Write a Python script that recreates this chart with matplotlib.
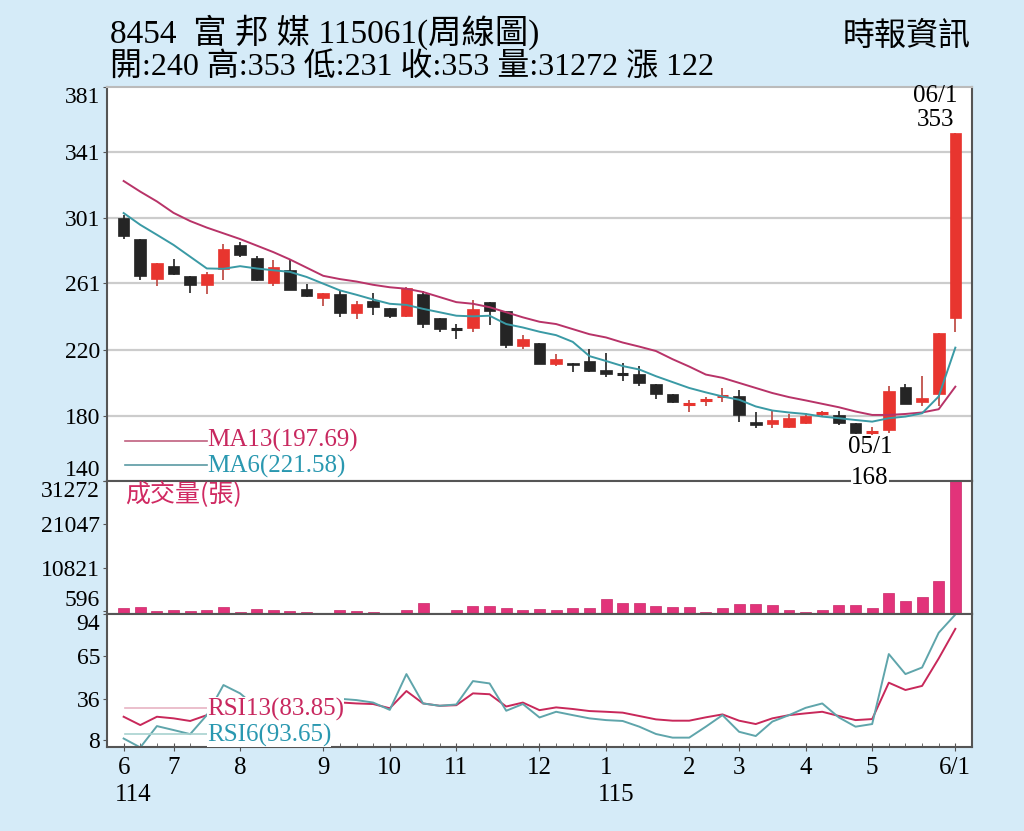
import matplotlib.pyplot as plt
import numpy as np

plt.rcParams['font.family'] = ['Liberation Serif', 'Noto Sans CJK TC']

# weekly candles, 114/06 .. 115/06/1
opens = [300.9, 288.1, 263.4, 271.8, 265.4, 260.1, 269.4, 284.4, 276.4, 261.1,
         268.9, 257.2, 251.9, 254.1, 243.0, 249.8, 245.7, 240.7, 254.5, 239.7,
         233.4, 233.3, 249.4, 243.8, 222.6, 224.7, 211.7, 212.3, 213.6, 207.6,
         206.0, 205.5, 199.6, 193.2, 186.9, 189.0, 191.6, 191.7, 176.1, 174.6,
         172.8, 175.3, 181.2, 180.4, 175.3, 169.3, 171.1, 197.3, 188.6, 193.4, 240]
highs = [302.9, 288.1, 273.5, 275.7, 265.4, 268.0, 285.2, 286.4, 277.4, 275.1,
         275.1, 260.7, 255.1, 256.6, 250.0, 254.7, 245.7, 258.6, 256.0, 239.7,
         236.0, 250.8, 249.4, 244.0, 229.2, 224.7, 217.5, 212.3, 220.6, 218.5,
         211.9, 210.3, 199.6, 193.2, 189.7, 191.3, 196.9, 195.9, 182.5, 183.1,
         181.0, 181.4, 183.1, 182.9, 175.5, 172.8, 197.9, 199.6, 204.5, 230.6, 353]
lows = [288.1, 262.8, 259.3, 266.3, 255.1, 254.3, 263.2, 276.8, 262.2, 259.3,
        256.6, 252.7, 247.3, 240.1, 239.3, 241.6, 239.5, 240.2, 233.5, 231.3,
        226.7, 230.9, 235.6, 221.4, 221.0, 211.3, 210.3, 206.6, 206.8, 203.7,
        201.2, 198.3, 190.3, 188.0, 182.5, 186.0, 188.2, 176.3, 172.2, 172.6,
        172.5, 175.0, 179.8, 174.2, 169.0, 168.0, 169.5, 187.0, 185.6, 186.0, 231]
closes = [289.9, 265.6, 273.5, 266.7, 260.1, 266.9, 281.7, 278.2, 262.8, 270.6,
          256.6, 253.1, 254.7, 242.6, 248.4, 246.7, 240.9, 258.2, 236.0, 232.9,
          233.2, 245.3, 244.2, 223.2, 226.7, 211.7, 214.8, 210.9, 207.2, 205.7,
          205.6, 200.0, 193.2, 188.6, 187.3, 189.4, 191.9, 180.4, 174.4, 177.3,
          178.8, 180.0, 181.6, 175.3, 169.5, 169.7, 195.2, 187.2, 190.7, 230.6, 353]

ma13 = [323.5, 317.0, 311.0, 304.0, 299.0, 295.0, 291.5, 288.0, 284.0, 280.0,
        275.5, 270.5, 265.5, 263.5, 262.0, 260.0, 258.5, 257.6, 255.6, 252.5,
        249.4, 248.4, 246.3, 243.2, 240.1, 237.4, 236.0, 232.9, 229.8, 227.8,
        224.7, 222.2, 219.5, 214.5, 210.0, 205.1, 203.1, 200.0, 196.9, 193.8,
        191.3, 189.3, 187.2, 185.1, 182.5, 180.4, 180.4, 181.0, 181.9, 183.9, 197.69]
ma6 = [303.9, 296.7, 290.6, 284.4, 277.2, 270.0, 269.8, 271.4, 270.0, 268.9,
       267.9, 264.8, 260.7, 256.6, 253.9, 251.0, 248.4, 247.7, 245.3, 243.2,
       241.1, 240.7, 241.1, 236.0, 233.9, 231.3, 229.2, 225.1, 216.4, 213.4,
       210.3, 208.2, 204.1, 200.5, 196.9, 194.2, 191.7, 189.7, 185.6, 183.1,
       181.9, 181.0, 179.4, 178.4, 177.3, 176.3, 178.4, 179.4, 181.4, 191.7, 221.58]

volume = [1420, 1740, 790, 950, 710, 950, 1740, 550, 1100, 870,
          790, 470, 150, 1030, 790, 550, 240, 1030, 2530, 240,
          1030, 1900, 1980, 1420, 1000, 1260, 870, 1500, 1500, 3550,
          2530, 2530, 1900, 1580, 1580, 400, 1420, 2370, 2290, 2210,
          870, 550, 870, 2050, 2050, 1420, 4980, 3000, 4030, 7740, 31272]

rsi13 = [23.7, 18.0, 23.7, 22.6, 20.8, 24.8, 33.0, 35.0, 33.0, 33.0,
         31.0, 30.0, 32.0, 33.5, 32.8, 32.4, 29.5, 41.3, 32.8, 31.2,
         31.6, 39.7, 39.1, 30.7, 33.4, 28.2, 30.1, 29.0, 27.6, 27.1,
         26.5, 24.2, 21.9, 21.0, 21.0, 23.3, 25.3, 21.0, 18.7, 22.6,
         24.8, 26.0, 27.1, 24.2, 21.4, 22.1, 47.0, 42.0, 44.8, 63.6, 83.85]
rsi6 = [8.8, 2.7, 17.3, 14.6, 11.8, 24.8, 45.4, 39.7, 30.0, 28.0,
        26.0, 25.0, 30.0, 36.0, 35.1, 33.4, 28.4, 52.9, 32.8, 31.2,
        32.1, 48.1, 46.5, 27.8, 32.4, 23.2, 27.1, 24.8, 22.6, 21.4,
        20.8, 16.9, 11.9, 9.4, 9.4, 16.9, 24.8, 13.4, 10.5, 20.4,
        24.8, 29.8, 32.8, 23.2, 16.9, 18.7, 66.6, 52.9, 57.4, 81.2, 93.65]

month_pos = [0, 3, 7, 12, 16, 20, 25, 29, 34, 37, 41, 45, 50]
month_labels = ['6', '7', '8', '9', '10', '11', '12', '1', '2', '3', '4', '5', '6/1']
price_ticks = [140, 180, 220, 261, 301, 341, 381]
vol_ticks = [596, 10821, 21047, 31272]
rsi_ticks = [8, 36, 65, 94]

BG = '#d5ebf8'
RED = '#e8352f'
BLK = '#252525'
EDGE = '#555555'

x = np.arange(len(closes))
o = np.array(opens); c = np.array(closes)
up = c >= o

fig = plt.figure(figsize=(10.24, 8.31), dpi=100, facecolor=BG)
ax1 = fig.add_axes([0.1045, 0.4212, 0.8447, 0.4741])
ax2 = fig.add_axes([0.1045, 0.2611, 0.8447, 0.1601], sharex=ax1)
ax3 = fig.add_axes([0.1045, 0.1011, 0.8447, 0.1600], sharex=ax1)

for ax in (ax1, ax2, ax3):
    ax.set_facecolor('white')
    for s in ax.spines.values():
        s.set_color(EDGE)
        s.set_linewidth(1.5)
    ax.tick_params(axis='y', length=3, colors=EDGE, labelcolor='black', labelsize=17, pad=2)
ax1.spines['top'].set_color('#bbbbbb')
ax1.set_xlim(-1, 51)

# price panel
ax1.set_ylim(140, 381)
for g in price_ticks[1:-1]:
    ax1.axhline(g, color='#cccccc', lw=1.6, zorder=0)
ax1.set_yticks(price_ticks)
ax1.set_yticklabels([str(t) for t in price_ticks])
ylab = ax1.get_yticklabels()
ylab[0].set_va('bottom'); ylab[-1].set_va('top')

cols = np.where(up, RED, BLK)
wick_cols = np.where(up, '#c0504a', '#333333')
ax1.vlines(x, lows, highs, color=wick_cols, lw=1.3, zorder=2)
small = np.abs(c - o) < 1.0
ax1.bar(x[~small], np.abs(c - o)[~small], bottom=np.minimum(o, c)[~small], width=0.7,
        color=cols[~small], edgecolor=cols[~small], lw=0.5, zorder=3)
ax1.hlines(c[small], x[small] - 0.35, x[small] + 0.35, color=cols[small], lw=2.2, zorder=3)

ax1.plot(x, ma13, color='#b83368', lw=1.4, zorder=4)
ax1.plot(x, ma6, color='#3a9aa5', lw=1.4, zorder=4)

ax1.plot([0.1, 5.0], [164.7, 164.7], color='#c0607f', lw=1.2)
ax1.text(5.0, 164.7, 'MA13(197.69)', color='#c8285f', fontsize=18, va='center', ha='left')
ax1.plot([0.1, 5.0], [149.5, 149.5], color='#5a9aa3', lw=1.2)
ax1.text(5.0, 148.9, 'MA6(221.58)', color='#2a98b0', fontsize=18, va='center', ha='left')

ax1.text(48.8, 375.5, '06/1', fontsize=18, ha='center', va='center', clip_on=False)
ax1.text(48.8, 361.0, '353', fontsize=18, ha='center', va='center', clip_on=False)
ax1.text(44.9, 161.0, '05/1', fontsize=18, ha='center', va='center')
plt.setp(ax1.get_xticklabels(), visible=False)
ax1.tick_params(axis='x', length=0)

# volume panel
ax2.set_ylim(0, 31272)
ax2.bar(x, volume, width=0.66, color='#e2337a', edgecolor='#c82868', lw=0.5)
ax2.set_yticks(vol_ticks)
ax2.set_yticklabels([str(t) for t in vol_ticks])
vlab = ax2.get_yticklabels()
vlab[0].set_va('bottom'); vlab[-1].set_va('top')
ax2.text(0.1, 28000, '成交量(張)', color='#d02a62', fontsize=18, va='center', ha='left',
         family=['Noto Sans CJK TC'])
plt.setp(ax2.get_xticklabels(), visible=False)
ax2.tick_params(axis='x', length=0)

# RSI panel
ax3.set_ylim(3, 94)
ax3.plot(x, rsi13, color='#c8285a', lw=1.4, zorder=2)
ax3.plot(x, rsi6, color='#5fa5ab', lw=1.4, zorder=2)
ax3.plot([0.1, 5.0], [29.7, 29.7], color='#e8b4c4', lw=1.2)
ax3.text(5.0, 29.0, 'RSI13(83.85)', color='#c8285f', fontsize=18, va='center', ha='left', zorder=5,
         bbox=dict(facecolor='white', edgecolor='none', pad=0.2))
ax3.plot([0.1, 5.0], [11.9, 11.9], color='#a8d2cf', lw=1.2)
ax3.text(5.0, 11.2, 'RSI6(93.65)', color='#2a98b0', fontsize=18, va='center', ha='left', zorder=5,
         bbox=dict(facecolor='white', edgecolor='none', pad=0.2))
ax3.set_yticks(rsi_ticks)
ax3.set_yticklabels([str(t) for t in rsi_ticks])
rlab = ax3.get_yticklabels()
rlab[-1].set_va('top')
ax3.set_xticks(month_pos)
ax3.set_xticklabels(month_labels, fontsize=18)
ax3.set_xticks(x, minor=True)
ax3.tick_params(axis='x', which='major', length=6, direction='inout', colors=EDGE,
                labelcolor='black', pad=4)
ax3.tick_params(axis='x', which='minor', length=3, direction='in', colors=EDGE)
ax3.text(-0.5, -0.36, '114', transform=ax3.get_xaxis_transform(), fontsize=18, ha='left', va='center')
ax3.text(28.5, -0.36, '115', transform=ax3.get_xaxis_transform(), fontsize=18, ha='left', va='center')

# low label sitting on the panel separator
fig.text(870 / 1024, 1 - 478 / 831, '168', fontsize=18, ha='center', va='center', zorder=10,
         bbox=dict(facecolor='white', edgecolor='none', pad=0.3))

# header
fig.text(0.107, 0.961, '8454  富 邦 媒 115061(周線圖)', fontsize=24, ha='left', va='center')
fig.text(0.107, 0.919, '開:240 高:353 低:231 收:353 量:31272 漲 122', fontsize=23, ha='left', va='center')
fig.text(0.948, 0.957, '時報資訊', fontsize=23, ha='right', va='center', family=['Noto Sans CJK TC'])

fig.savefig('out.png', dpi=100, facecolor=BG)
